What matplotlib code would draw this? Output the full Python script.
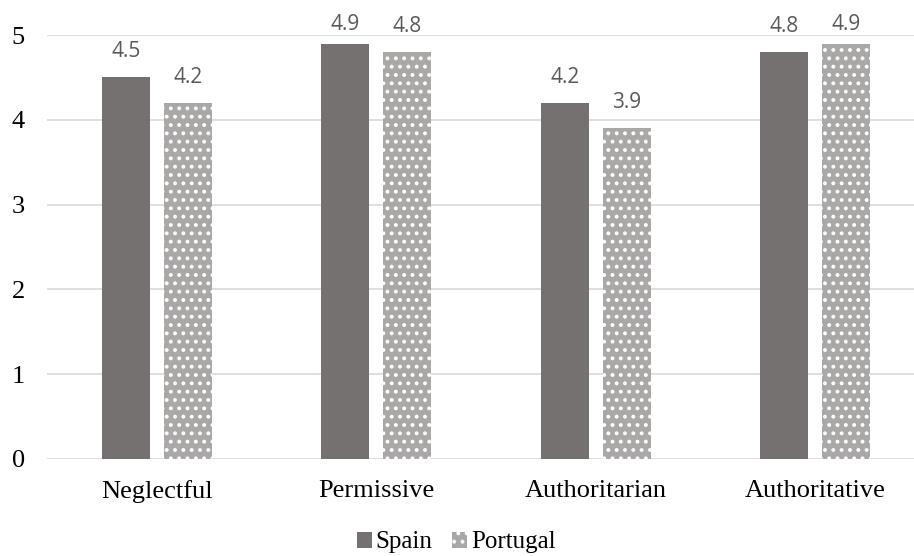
import matplotlib.pyplot as plt
import numpy as np

plt.rcParams['hatch.linewidth'] = 1.6
plt.rcParams['hatch.color'] = 'white'

# Datos del gráfico
categorias = ['Neglectful', 'Permissive', 'Authoritarian', 'Authoritative']
spain = [4.5, 4.9, 4.2, 4.8]
portugal = [4.2, 4.8, 3.9, 4.9]

x = np.arange(len(categorias))
ancho = 0.22
desp = 0.141

fig = plt.figure(figsize=(9.14, 5.56), dpi=100)
ax = fig.add_axes([0.0514, 0.1745, 0.9486, 0.7625])

b1 = ax.bar(x - desp, spain, ancho, color='#767171', label='Spain', zorder=3)
b2 = ax.bar(x + desp, portugal, ancho, color='#AAA7A7', edgecolor='white',
            hatch='..', linewidth=0, label='Portugal', zorder=3)

# Etiquetas de valor encima de cada barra (limitadas al borde superior)
for barras, vals in ((b1, spain), (b2, portugal)):
    for b, v in zip(barras, vals):
        ax.text(b.get_x() + b.get_width() / 2, min(v + 0.3, 5.13), f'{v:.1f}',
                ha='center', va='center', fontsize=15, color='#595959',
                family='Open Sans', clip_on=False)

ax.set_xlim(-0.5, 3.45)
ax.set_ylim(0, 5)
ax.set_yticks(range(6))
ax.set_xticks(x)
ax.set_xticklabels(categorias, family='Liberation Serif', fontsize=19)
for t in ax.get_yticklabels():
    t.set_family('Liberation Serif')
    t.set_fontsize(19)
ax.tick_params(axis='both', length=0)
ax.tick_params(axis='y', pad=16)
ax.tick_params(axis='x', pad=15)
ax.grid(axis='y', color='#D9D9D9', linewidth=1.2, zorder=0)
for s in ax.spines.values():
    s.set_visible(False)

ax.legend(loc='center', bbox_to_anchor=(0.472, -0.197), ncol=2,
          frameon=False, prop={'family': 'Liberation Serif', 'size': 18},
          handlelength=0.6, handleheight=0.6, handletextpad=0.15,
          columnspacing=0.8)

fig.savefig('out.png')
